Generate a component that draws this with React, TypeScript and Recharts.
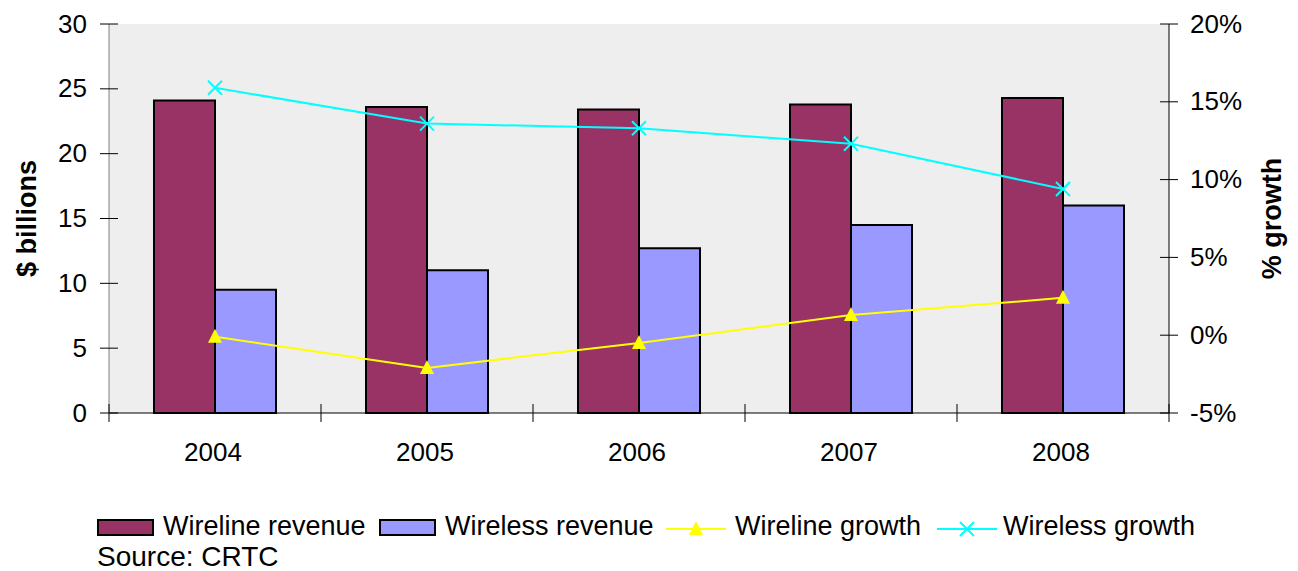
import React from "react";
import {
  ComposedChart,
  Bar,
  Line,
  XAxis,
  YAxis,
  CartesianGrid,
  Legend,
} from "recharts";

const years = ["2004", "2005", "2006", "2007", "2008"];
const wirelineRevenue = [24.1, 23.6, 23.4, 23.8, 24.3];
const wirelessRevenue = [9.5, 11.0, 12.7, 14.5, 16.0];
const wirelineGrowth = [-0.1, -2.1, -0.5, 1.3, 2.4];
const wirelessGrowth = [15.9, 13.6, 13.3, 12.3, 9.4];
const leftTicks = [0, 5, 10, 15, 20, 25, 30];
const rightTicks = [-5, 0, 5, 10, 15, 20];

const FONT = '"Liberation Sans", Arial, sans-serif';
const W = 1298;
const H = 571;
const LEFT_W = 109;
const RIGHT_W = 129;
const PLOT_W = W - LEFT_W - RIGHT_W;
const TICK = 9;

const data = years.map((year, i) => ({
  year,
  wirelineRevenue: wirelineRevenue[i],
  wirelessRevenue: wirelessRevenue[i],
  wirelineGrowth: wirelineGrowth[i],
  wirelessGrowth: wirelessGrowth[i],
}));

const LeftTick = (props: any) => {
  const { x, y, payload } = props;
  const ax = x + TICK + 13;
  return (
    <g>
      <line x1={ax - TICK} x2={ax + TICK} y1={y} y2={y} stroke="#000" />
      <text x={x} y={y} dy="0.33em" textAnchor="end" fontSize={26} fontFamily={FONT} fill="#000">
        {payload.value}
      </text>
    </g>
  );
};

const RightTick = (props: any) => {
  const { x, y, payload } = props;
  const ax = x - TICK - 12;
  return (
    <g>
      <line x1={ax - TICK} x2={ax + TICK} y1={y} y2={y} stroke="#000" />
      <text x={x} y={y} dy="0.33em" textAnchor="start" fontSize={26} fontFamily={FONT} fill="#000">
        {payload.value}%
      </text>
    </g>
  );
};

const XTick = (props: any) => {
  const { x, y, payload, index } = props;
  const ay = y - TICK;
  const band = PLOT_W / years.length;
  return (
    <g>
      <line x1={x - band / 2} x2={x - band / 2} y1={ay - TICK} y2={ay + TICK} stroke="#000" />
      {index === years.length - 1 && (
        <line x1={x + band / 2} x2={x + band / 2} y1={ay - TICK} y2={ay + TICK} stroke="#000" />
      )}
      <text x={x - 2} y={ay + 48} textAnchor="middle" fontSize={26} fontFamily={FONT} fill="#000">
        {payload.value}
      </text>
    </g>
  );
};

const AxisTitle = ({ viewBox, value, shift }: any) => {
  const cx = viewBox.x + shift;
  const cy = viewBox.y + viewBox.height / 2;
  return (
    <text
      x={cx}
      y={cy}
      transform={`rotate(-90, ${cx}, ${cy})`}
      textAnchor="middle"
      dominantBaseline="central"
      fontSize={27}
      fontWeight="bold"
      fontFamily={FONT}
      fill="#000"
    >
      {value}
    </text>
  );
};

const TriangleDot = (props: any) => {
  const { cx, cy } = props;
  if (cx == null || cy == null) return null;
  return <path d={`M${cx},${cy - 8} L${cx + 7},${cy + 6} L${cx - 7},${cy + 6} Z`} fill="#FFFF00" />;
};

const CrossDot = (props: any) => {
  const { cx, cy } = props;
  if (cx == null || cy == null) return null;
  return (
    <path
      d={`M${cx - 7},${cy - 7} L${cx + 7},${cy + 7} M${cx - 7},${cy + 7} L${cx + 7},${cy - 7}`}
      stroke="#00FFFF"
      strokeWidth={2}
      fill="none"
    />
  );
};

// icon left / text left in page pixels
const legendItems = [
  { name: "Wireline revenue", kind: "bar", color: "#993366", icon: 97, text: 163 },
  { name: "Wireless revenue", kind: "bar", color: "#9999FF", icon: 379, text: 445 },
  { name: "Wireline growth", kind: "tri", color: "#FFFF00", icon: 666, text: 735 },
  { name: "Wireless growth", kind: "cross", color: "#00FFFF", icon: 937, text: 1003 },
];

const LegendBox = () => (
  <div style={{ position: "relative", height: 66, width: W, fontFamily: FONT, color: "#000" }}>
    {legendItems.map((it) => (
      <React.Fragment key={it.name}>
        {it.kind === "bar" ? (
          <div
            style={{
              position: "absolute",
              left: it.icon,
              top: 14,
              width: 57,
              height: 17,
              boxSizing: "border-box",
              border: "2px solid #000",
              background: it.color,
            }}
          />
        ) : (
          <svg width={60} height={24} style={{ position: "absolute", left: it.icon, top: 12 }}>
            <line x1={0} x2={60} y1={12} y2={12} stroke={it.color} strokeWidth={2} />
            {it.kind === "tri" ? (
              <path d="M30,4 L37,18 L23,18 Z" fill={it.color} />
            ) : (
              <path d="M23,5 L37,19 M23,19 L37,5" stroke={it.color} strokeWidth={2} />
            )}
          </svg>
        )}
        <span
          style={{
            position: "absolute",
            left: it.text,
            top: 3,
            fontSize: 27,
            lineHeight: "36px",
            whiteSpace: "nowrap",
          }}
        >
          {it.name}
        </span>
      </React.Fragment>
    ))}
    <div style={{ position: "absolute", top: 40, left: 97, fontSize: 28, lineHeight: "24px", whiteSpace: "nowrap" }}>
      Source: CRTC
    </div>
  </div>
);

export default function App() {
  return (
    <div style={{ position: "absolute", left: 0, top: 0, width: W, height: H, background: "#fff" }}>
      <ComposedChart
        width={W}
        height={H}
        data={data}
        margin={{ top: 24, right: 0, bottom: 0, left: 0 }}
        barCategoryGap={45}
        barGap={0}
      >
        <CartesianGrid fill="#EEEEEE" stroke="none" horizontal={false} vertical={false} />
        <XAxis
          dataKey="year"
          height={92}
          tickSize={TICK}
          tickMargin={0}
          tickLine={false}
          axisLine={{ stroke: "#000" }}
          tick={<XTick />}
          interval={0}
        />
        <YAxis
          yAxisId="left"
          orientation="left"
          width={LEFT_W}
          domain={[0, 30]}
          ticks={leftTicks}
          tickSize={TICK}
          tickMargin={13}
          tickLine={false}
          axisLine={{ stroke: "#808080" }}
          tick={<LeftTick />}
          interval={0}
          label={<AxisTitle value="$ billions" shift={27} />}
        />
        <YAxis
          yAxisId="right"
          orientation="right"
          width={RIGHT_W}
          domain={[-5, 20]}
          ticks={rightTicks}
          tickSize={TICK}
          tickMargin={12}
          tickLine={false}
          axisLine={{ stroke: "#000" }}
          tick={<RightTick />}
          interval={0}
          label={<AxisTitle value="% growth" shift={103} />}
        />
        <Bar
          yAxisId="left"
          dataKey="wirelineRevenue"
          name="Wireline revenue"
          fill="#993366"
          stroke="#000"
          strokeWidth={2}
          isAnimationActive={false}
        />
        <Bar
          yAxisId="left"
          dataKey="wirelessRevenue"
          name="Wireless revenue"
          fill="#9999FF"
          stroke="#000"
          strokeWidth={2}
          isAnimationActive={false}
        />
        <Line
          yAxisId="right"
          dataKey="wirelineGrowth"
          name="Wireline growth"
          stroke="#FFFF00"
          strokeWidth={2}
          dot={<TriangleDot />}
          activeDot={false}
          isAnimationActive={false}
        />
        <Line
          yAxisId="right"
          dataKey="wirelessGrowth"
          name="Wireless growth"
          stroke="#00FFFF"
          strokeWidth={2}
          dot={<CrossDot />}
          activeDot={false}
          isAnimationActive={false}
        />
        <Legend verticalAlign="bottom" align="left" content={() => <LegendBox />} />
      </ComposedChart>
    </div>
  );
}
